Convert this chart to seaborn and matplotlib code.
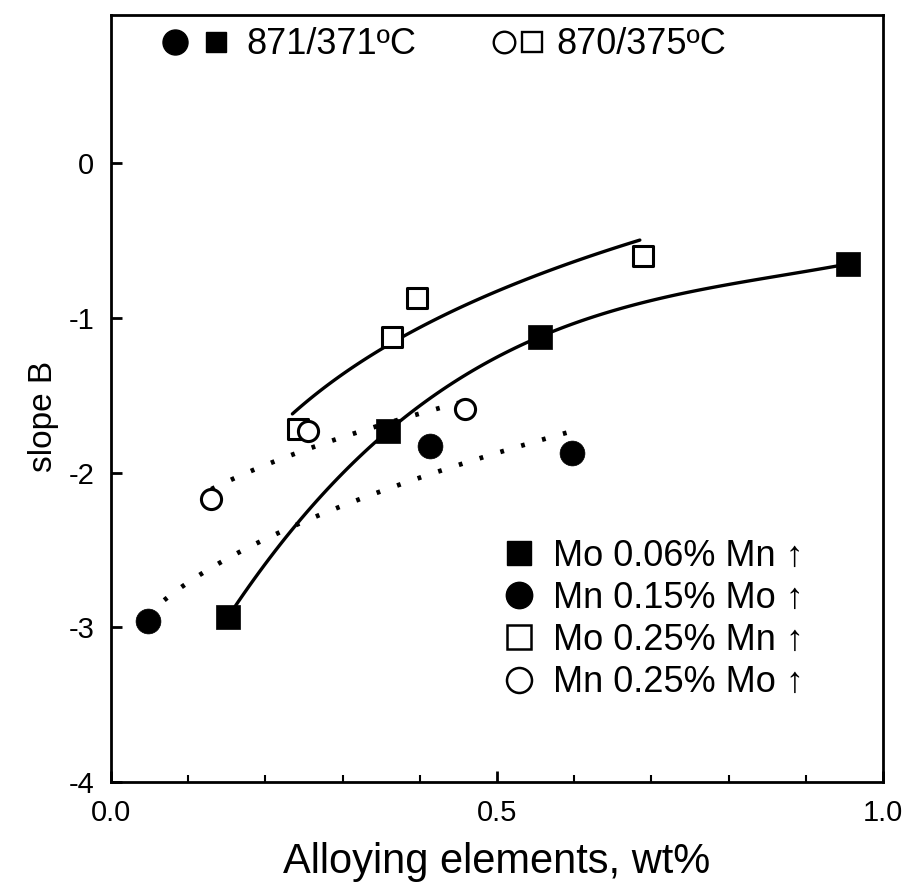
import numpy as np
import pandas as pd
import matplotlib
matplotlib.use("Agg")
import matplotlib.pyplot as plt
import seaborn as sns
from matplotlib.lines import Line2D
from matplotlib.legend_handler import HandlerTuple
from matplotlib.ticker import MultipleLocator

# ---- data ----
mo006_x = [0.152, 0.359, 0.556, 0.955]   # Mo 0.06%, Mn increasing (871/371C)
mo006_y = [-2.93, -1.73, -1.12, -0.65]
mn015_x = [0.048, 0.413, 0.597]          # Mn 0.15%, Mo increasing (871/371C)
mn015_y = [-2.96, -1.83, -1.87]
mo025_x = [0.242, 0.364, 0.396, 0.689]   # Mo 0.25%, Mn increasing (870/375C)
mo025_y = [-1.72, -1.12, -0.87, -0.60]
mn025_x = [0.130, 0.255, 0.459]          # Mn 0.25%, Mo increasing (870/375C)
mn025_y = [-2.17, -1.73, -1.59]

# x-extent of each fitted trend curve
fit_range = {
    "mo006": (0.152, 0.955),
    "mn015": (0.048, 0.60),
    "mo025": (0.235, 0.685),
    "mn025": (0.13, 0.45),
}

legend_labels = ["Mo 0.06% Mn \u2191", "Mn 0.15% Mo \u2191",
                 "Mo 0.25% Mn \u2191", "Mn 0.25% Mo \u2191"]
top_labels = ["871/371\u00baC", "870/375\u00baC"]

sns.set_theme(style="ticks")
plt.rcParams["font.family"] = ["Liberation Sans", "DejaVu Sans"]
plt.rcParams["axes.unicode_minus"] = False
for k in ["text.color", "axes.labelcolor", "xtick.color", "ytick.color",
          "axes.edgecolor"]:
    plt.rcParams[k] = "black"

fig = plt.figure(figsize=(9.02, 8.86), dpi=100)
ax = fig.add_axes([0.123, 0.1174, 0.856, 0.8657])


def trend(x, y, rng, kind="log", deg=1, n=120):
    f = {"log": np.log, "sqrt": np.sqrt, "lin": lambda v: v}[kind]
    coef = np.polyfit(f(np.asarray(x)), y, deg)
    xs = np.linspace(rng[0], rng[1], n)
    return pd.DataFrame({"x": xs, "y": np.polyval(coef, f(xs))})


# fitted curves
c1 = trend(mo006_x, mo006_y, fit_range["mo006"], "lin", 3)
c3 = trend(mo025_x, mo025_y, fit_range["mo025"], "log", 1)
c2 = trend(mn015_x, mn015_y, fit_range["mn015"], "sqrt", 1)
c4 = trend(mn025_x, mn025_y, fit_range["mn025"], "sqrt", 1)
sns.lineplot(data=c1, x="x", y="y", ax=ax, color="black", lw=2.4, sort=False)
sns.lineplot(data=c3, x="x", y="y", ax=ax, color="black", lw=2.4, sort=False)
sns.lineplot(data=c2, x="x", y="y", ax=ax, color="black", lw=3.4, sort=False,
             dashes=False, linestyle=(0, (0.8, 3.8)))
sns.lineplot(data=c4, x="x", y="y", ax=ax, color="black", lw=3.4, sort=False,
             dashes=False, linestyle=(0, (0.8, 3.8)))

# markers
sns.scatterplot(x=mo006_x, y=mo006_y, ax=ax, marker="s", s=290, color="black",
                edgecolor="black", linewidth=0.5, zorder=5)
sns.scatterplot(x=mn015_x, y=mn015_y, ax=ax, marker="o", s=320, color="black",
                edgecolor="black", linewidth=0.5, zorder=5)
sns.scatterplot(x=mo025_x, y=mo025_y, ax=ax, marker="s", s=200, color="white",
                edgecolor="black", linewidth=2.2, zorder=5)
sns.scatterplot(x=mn025_x, y=mn025_y, ax=ax, marker="o", s=210, color="white",
                edgecolor="black", linewidth=2.2, zorder=5)

ax.set_xlim(0, 1.0)
ax.set_ylim(-4, 0.96)
ax.set_xticks([0.0, 0.5, 1.0])
ax.set_xticklabels(["0.0", "0.5", "1.0"])
ax.xaxis.set_minor_locator(MultipleLocator(0.1))
ax.set_yticks([0, -1, -2, -3, -4])
ax.set_yticklabels(["0", "-1", "-2", "-3", "-4"])
ax.tick_params(axis="both", which="major", direction="in", length=8, width=2,
               labelsize=21, colors="black")
ax.tick_params(axis="x", which="major", pad=12)
ax.tick_params(axis="y", which="major", pad=12)
ax.tick_params(axis="x", which="minor", direction="in", length=5, width=1.5)
for sp in ax.spines.values():
    sp.set_linewidth(2)
    sp.set_color("black")

ax.set_xlabel("Alloying elements, wt%", fontsize=30, labelpad=11)
ax.set_ylabel("slope B", fontsize=24)
ax.yaxis.set_label_coords(-0.067, 0.476)

# legends at top (two groups)
fc = Line2D([], [], marker="o", ls="none", color="black", markersize=18)
fs = Line2D([], [], marker="s", ls="none", color="black", markersize=15)
oc = Line2D([], [], marker="o", ls="none", mfc="white", mec="black",
            mew=1.7, markersize=15.5)
os_ = Line2D([], [], marker="s", ls="none", mfc="white", mec="black",
             mew=1.7, markersize=14.5)
leg1 = ax.legend([(fc, fs)], [top_labels[0]],
                 handler_map={tuple: HandlerTuple(ndivide=None, pad=0.35)},
                 loc="center left", bbox_to_anchor=(0.065, 0.961),
                 frameon=False, fontsize=26, handlelength=1.9,
                 handletextpad=0.45, borderaxespad=0, borderpad=0)
ax.add_artist(leg1)
leg2 = ax.legend([(oc, os_)], [top_labels[1]],
                 handler_map={tuple: HandlerTuple(ndivide=None, pad=0.16)},
                 loc="center left", bbox_to_anchor=(0.494, 0.961),
                 frameon=False, fontsize=26, handlelength=1.42,
                 handletextpad=0.36, borderaxespad=0, borderpad=0)
ax.add_artist(leg2)

# legend lower right
h1 = Line2D([], [], marker="s", ls="none", color="black", markersize=17)
h2 = Line2D([], [], marker="o", ls="none", color="black", markersize=19)
h3 = Line2D([], [], marker="s", ls="none", mfc="white", mec="black",
            mew=1.8, markersize=17)
h4 = Line2D([], [], marker="o", ls="none", mfc="white", mec="black",
            mew=1.8, markersize=18)
ax.legend([h1, h2, h3, h4], legend_labels, loc="center left",
          bbox_to_anchor=(0.507, 0.212), frameon=False, fontsize=26,
          handlelength=0.9, handletextpad=0.5, labelspacing=0.2,
          borderaxespad=0, borderpad=0)

fig.savefig("out.png", dpi=100)
